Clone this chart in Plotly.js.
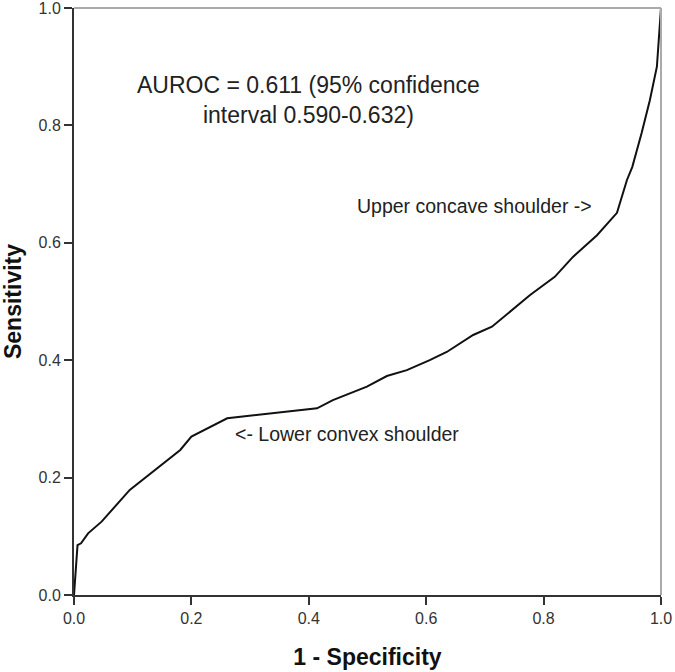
<!DOCTYPE html>
<html>
<head>
<meta charset="utf-8">
<script src="https://cdn.plot.ly/plotly-3.0.1.min.js"></script>
<style>
  html, body { margin: 0; padding: 0; background: #fff; }
  #roc { width: 675px; height: 672px; }
</style>
</head>
<body>
<div id="roc"></div>
<script>
// ROC curve
var fpr = [0, 0.003, 0.006, 0.012, 0.024, 0.047, 0.095, 0.181, 0.2, 0.261,
           0.414, 0.441, 0.499, 0.533, 0.567, 0.606, 0.635, 0.680, 0.712,
           0.777, 0.819, 0.850, 0.891, 0.925, 0.942, 0.951, 0.967, 0.981,
           0.993, 1.0];
var tpr = [0, 0.043, 0.085, 0.088, 0.105, 0.125, 0.179, 0.247, 0.27, 0.301,
           0.318, 0.332, 0.355, 0.373, 0.383, 0.400, 0.414, 0.443, 0.457,
           0.511, 0.542, 0.576, 0.613, 0.651, 0.707, 0.729, 0.787, 0.843,
           0.9, 1.0];
var tickVals = [0, 0.2, 0.4, 0.6, 0.8, 1.0];
var tickText = ['0.0', '0.2', '0.4', '0.6', '0.8', '1.0'];

var font = 'Liberation Sans, Arial, sans-serif';

var trace = {
  x: fpr,
  y: tpr,
  mode: 'lines',
  line: { color: '#111', width: 2 },
  hoverinfo: 'skip'
};

var axisCommon = {
  range: [0, 1],
  tickvals: tickVals,
  ticktext: tickText,
  ticks: 'outside',
  ticklen: 8,
  tickwidth: 2,
  tickcolor: '#333',
  showline: true,
  linecolor: '#333',
  linewidth: 2,
  showgrid: false,
  zeroline: false,
  ticklabeloverflow: 'allow',
  tickfont: { family: font, size: 16, color: '#333' }
};

var layout = {
  width: 675,
  height: 672,
  margin: { l: 74, r: 14, t: 8, b: 77 },
  paper_bgcolor: '#fff',
  plot_bgcolor: '#fff',
  showlegend: false,
  xaxis: Object.assign({}, axisCommon, {
    title: { text: '1 - Specificity', font: { family: font, size: 23, color: '#111', weight: 'bold' }, standoff: 23 }
  }),
  yaxis: Object.assign({}, axisCommon, {
    title: { text: 'Sensitivity', font: { family: font, size: 23, color: '#111', weight: 'bold' }, standoff: 10 }
  }),
  shapes: [
    { type: 'line', xref: 'paper', yref: 'paper', x0: 0, x1: 1, y0: 1, y1: 1, line: { color: '#aaa', width: 2 } },
    { type: 'line', xref: 'paper', yref: 'paper', x0: 1, x1: 1, y0: 0, y1: 1, line: { color: '#aaa', width: 2 } }
  ],
  annotations: [
    { x: 0.399, y: 0.843, xref: 'x', yref: 'y', showarrow: false, align: 'center',
      text: 'AUROC = 0.611 (95% confidence<br>interval 0.590-0.632)',
      font: { family: font, size: 23, color: '#222' } },
    { x: 0.886, y: 0.663, xref: 'x', yref: 'y', xanchor: 'right', showarrow: false,
      text: 'Upper concave shoulder ->',
      font: { family: font, size: 19.5, color: '#222' } },
    { x: 0.271, y: 0.274, xref: 'x', yref: 'y', xanchor: 'left', showarrow: false,
      text: '<- Lower convex shoulder',
      font: { family: font, size: 19.5, color: '#222' } }
  ]
};

Plotly.newPlot('roc', [trace], layout, { displayModeBar: false, staticPlot: true });
</script>
</body>
</html>
